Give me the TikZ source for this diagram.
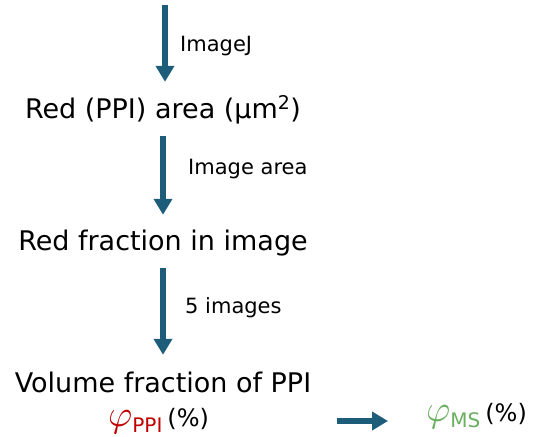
\documentclass[tikz,border=0pt]{standalone}
\usepackage{fontspec}
\usepackage{unicode-math}
\setmainfont{DejaVu Sans}
\usetikzlibrary{arrows.meta}

\definecolor{flowblue}{RGB}{30,93,121}
\definecolor{ppired}{RGB}{192,0,0}
\definecolor{msgreen}{RGB}{106,174,96}

\tikzset{
	step text/.style={inner sep=0pt, anchor=base, text height=20pt, text depth=5pt, font=\fontsize{27}{30}\selectfont},
	step label/.style={inner sep=0pt, anchor=base west, font=\fontsize{21}{25}\selectfont},
	frac value/.style={inner sep=0pt, anchor=base west},
	flow/.style={flowblue, line width=6pt, -{Triangle[width=18pt,length=16pt]}}
}
\newcommand{\fracsym}[1]{{\fontsize{37}{40}\selectfont$\varphi$}\raisebox{-6pt}{\fontsize{20}{24}\selectfont #1}\hspace{5pt}{\color{black}\fontsize{24}{28}\selectfont(\%)}}

\begin{document}
\begin{tikzpicture}[x=1pt,y=1pt]
	\useasboundingbox (0,0) rectangle (534,436);

	\coordinate (top) at (165,431);%start of first arrow
	\node[step text] (area) at (163,317) {Red (PPI) area (μm\textsuperscript{2})};
	\node[step text] (frac) at (163,185) {Red fraction in image};
	\node[step text] (vol) at (163,44) {Volume fraction of PPI};

	\draw[flow, shorten >=17pt] (top) -- (top |- area.north);%ImageJ
	\draw[flow, shorten <=12pt, shorten >=16pt] (area.south) -- (frac.north);%image area
	\draw[flow, shorten <=12pt, shorten >=17pt] (frac.south) -- (vol.north);%5 images

	\node[step label] (lbimagej) at (180,384) {ImageJ};
	\node[step label] (lbarea) at (188,261) {Image area};
	\node[step label] (lbfive) at (185,123) {5 images};

	% volume fractions
	\node[frac value, ppired] (ppi) at (108,10) {\fracsym{PPI}};
	\node[frac value, msgreen] (ms) at (426,15) {\fracsym{MS}};
	\coordinate (hstart) at (337,15);
	\coordinate (hend) at (388,15);
	\draw[flow] (hstart) -- (hend);
\end{tikzpicture}
\end{document}
